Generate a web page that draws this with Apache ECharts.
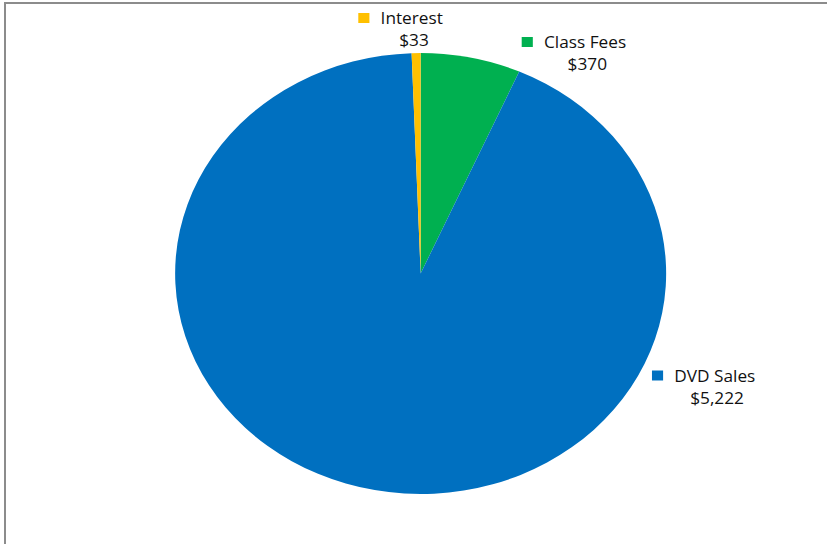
<!DOCTYPE html>
<html><head><meta charset="utf-8">
<script src="https://cdn.jsdelivr.net/npm/echarts@6/dist/echarts.min.js"></script>
<style>
html,body{margin:0;padding:0;background:#fff;overflow:hidden;}
#wrap{position:relative;width:827px;height:544px;overflow:hidden;background:#fff;}
#frame{position:absolute;left:4px;top:2px;width:900px;height:600px;border-left:2px solid #8c8c8c;border-top:2px solid #8c8c8c;}
#chart{position:absolute;left:0;top:0;width:743px;height:544px;transform:scaleX(1.1134);transform-origin:0 0;}
</style></head><body>
<div id="wrap"><div id="frame"></div><div id="chart"></div></div>
<script>
// Data
const categories = ['Class Fees', 'DVD Sales', 'Interest'];
const values = [370, 5222, 33];
const colors = ['#00B050', '#0070C0', '#FFC000'];

// Label anchor positions (chart layout, unstretched coordinates)
const labelAnchors = [[515.5, 53], [632, 386.5], [359.8, 29]];

const chart = echarts.init(document.getElementById('chart'), null, {renderer: 'svg'});
const data = categories.map((name, i) => ({
  name: name,
  value: values[i],
  itemStyle: {color: colors[i]},
  label: {rich: {k: {width: 10, height: 10, backgroundColor: colors[i]}}}
}));

chart.setOption({
  animation: false,
  series: [{
    type: 'pie',
    center: [377.8, 273.5],
    radius: [0, 220.5],
    startAngle: 90,
    clockwise: true,
    avoidLabelOverlap: false,
    itemStyle: {borderWidth: 0},
    labelLine: {show: false},
    emphasis: {disabled: true},
    label: {
      show: true,
      position: 'outside',
      color: '#111',
      fontFamily: 'Open Sans',
      fontSize: 15.5,
      lineHeight: 22,
      align: 'center',
      formatter: function (p) {
        return '{k|}{n|' + p.name + '}\n{v|$' + p.value.toLocaleString('en-US') + '}';
      },
      rich: {
        k: {width: 10, height: 10},
        n: {fontFamily: 'Open Sans', fontSize: 15.5, color: '#111', padding: [0, 0, 0, 10], lineHeight: 22},
        v: {fontFamily: 'Open Sans', fontSize: 15.5, color: '#111', padding: [0, 0, 0, 24], lineHeight: 22}
      }
    },
    labelLayout: function (params) {
      const a = labelAnchors[params.dataIndex];
      return {x: a[0], y: a[1], align: 'center', verticalAlign: 'middle'};
    },
    data: data
  }]
});
</script>
</body></html>
